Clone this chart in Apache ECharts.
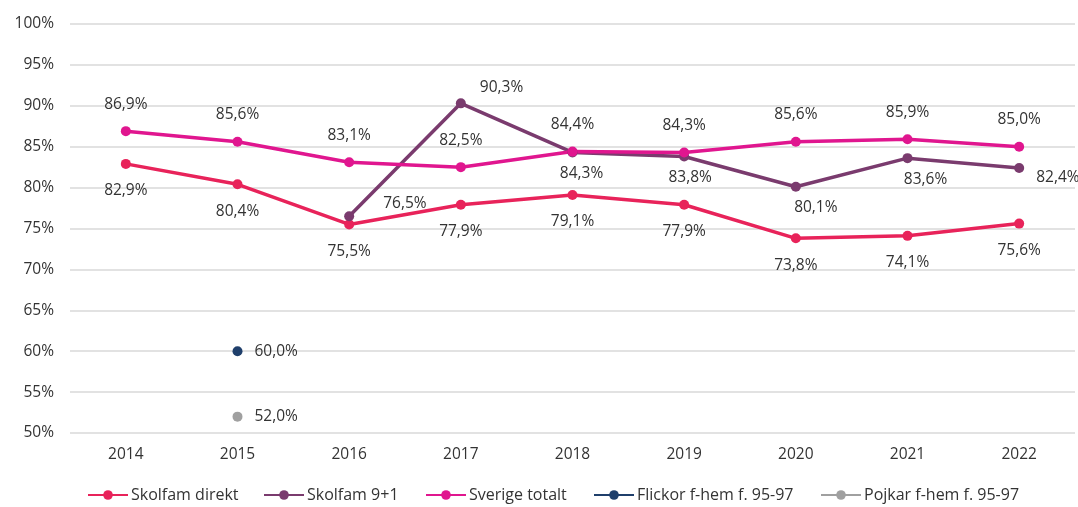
<!DOCTYPE html>
<html>
<head>
<meta charset="utf-8">
<script src="https://cdn.jsdelivr.net/npm/echarts@6/dist/echarts.min.js"></script>
<style>
  html, body { margin: 0; padding: 0; background: #fff; }
  #chart { width: 1078px; height: 507px; }
</style>
</head>
<body>
<div id="chart"></div>
<script>
// årtal på x-axeln
const years = ['2014', '2015', '2016', '2017', '2018', '2019', '2020', '2021', '2022'];

const skolfamDirekt = [82.9, 80.4, 75.5, 77.9, 79.1, 77.9, 73.8, 74.1, 75.6];
const skolfam91 = [null, null, 76.5, 90.3, 84.3, 83.8, 80.1, 83.6, 82.4];
const sverigeTotalt = [86.9, 85.6, 83.1, 82.5, 84.4, 84.3, 85.6, 85.9, 85.0];
const flickor = [null, 60.0, null, null, null, null, null, null, null];
const pojkar = [null, 52.0, null, null, null, null, null, null, null];

const seriesNames = ['Skolfam direkt', 'Skolfam 9+1', 'Sverige totalt', 'Flickor f-hem f. 95-97', 'Pojkar f-hem f. 95-97'];

// etikettplacering för Skolfam 9+1
const s91Pos = [null, null, 'right', 'right', 'bottom', 'bottom', 'bottom', 'bottom', 'right'];
const s91Offset = [null, null, [20, -13], [0, -16], [9, 0], [6, 0], [20, 0], [18, 0], [0, 10]];
const s91Dist = [null, null, 9, 14, 8, 8, 8, 8, 12];

// vänsterkant för varje förklaringspost
const legendLeft = [87, 263, 425, 593, 820];

const fmt = (v) => v.toFixed(1).replace('.', ',') + '%';
const labelFont = { fontFamily: 'Open Sans', fontSize: 15.5, color: '#333' };

const chart = echarts.init(document.getElementById('chart'));

const lineSeries = (name, data, color, pos, dist) => ({
  name,
  type: 'line',
  data,
  symbol: 'circle',
  symbolSize: 10,
  connectNulls: false,
  lineStyle: { width: 3.5, color },
  itemStyle: { color },
  label: {
    show: true,
    position: pos,
    distance: dist,
    formatter: (p) => fmt(p.value),
    ...labelFont,
  },
});

const s91 = lineSeries('Skolfam 9+1', skolfam91.map((v, i) =>
  v == null ? null : {
    value: v,
    label: { position: s91Pos[i], offset: s91Offset[i], distance: s91Dist[i] },
  }), '#7a3b6e', 'bottom', 8);

const option = {
  animation: false,
  grid: { left: 70, right: 3, top: 24, bottom: 74 },
  legend: seriesNames.map((n, i) => ({
    top: 487,
    left: legendLeft[i],
    padding: 0,
    itemWidth: 40,
    itemHeight: 12,
    textStyle: { fontFamily: 'Open Sans', fontSize: 16, color: '#333', padding: [0, 0, 0, -2] },
    data: [n],
  })),
  xAxis: {
    type: 'category',
    data: years,
    boundaryGap: true,
    axisLine: { show: false },
    axisTick: { show: false },
    axisLabel: { ...labelFont, margin: 14 },
  },
  yAxis: {
    type: 'value',
    min: 50,
    max: 100,
    interval: 5,
    axisLabel: { ...labelFont, formatter: '{value}%', margin: 16 },
    splitLine: { lineStyle: { color: '#d9d9d9', width: 1.5 } },
  },
  series: [
    lineSeries(seriesNames[0], skolfamDirekt, '#e8235a', 'bottom', 14),
    s91,
    lineSeries(seriesNames[2], sverigeTotalt, '#e0168f', 'top', 14),
    lineSeries(seriesNames[3], flickor, '#1f3f6b', 'right', 12),
    lineSeries(seriesNames[4], pojkar, '#a0a0a0', 'right', 12),
  ],
};

chart.setOption(option);
window.addEventListener('resize', chart.resize);
</script>
</body>
</html>
